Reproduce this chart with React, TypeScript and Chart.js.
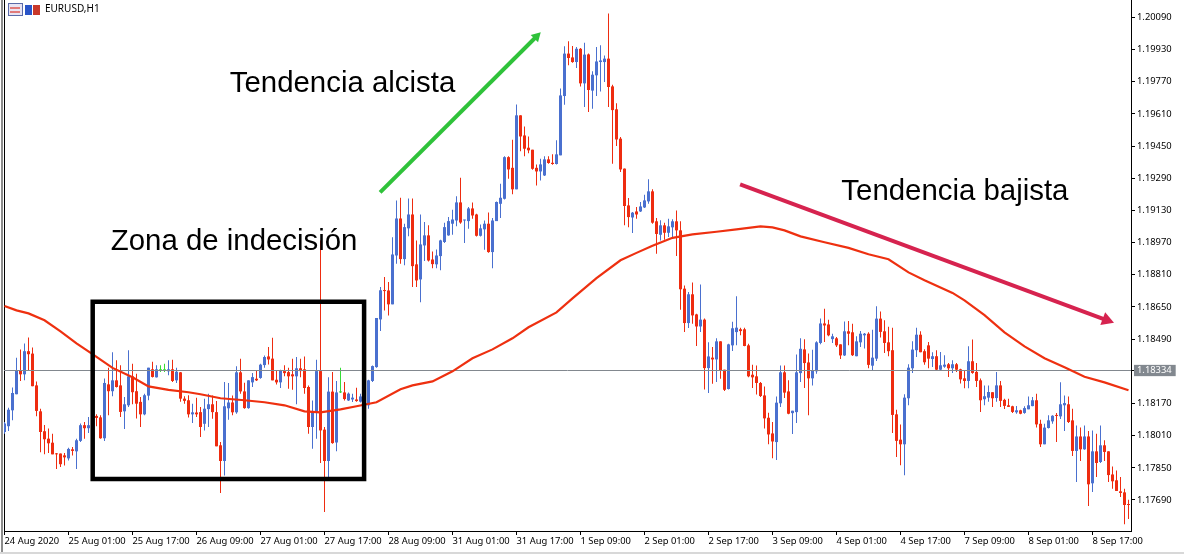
import React, { useEffect, useRef } from "react";
import { Chart, registerables } from "chart.js";

Chart.register(...registerables);

const symbol = "EURUSD,H1";
const currentPrice = 1.18334;
const timeLabels = ["24 Aug 2020", "25 Aug 01:00", "25 Aug 17:00", "26 Aug 09:00", "27 Aug 01:00", "27 Aug 17:00", "28 Aug 09:00", "31 Aug 01:00", "31 Aug 17:00", "1 Sep 09:00", "2 Sep 01:00", "2 Sep 17:00", "3 Sep 09:00", "4 Sep 01:00", "4 Sep 17:00", "7 Sep 09:00", "8 Sep 01:00", "8 Sep 17:00"];
const timeTickIndex = [0, 16, 32, 48, 64, 80, 96, 112, 128, 144, 160, 176, 192, 208, 224, 240, 256, 272];
const priceTicks = [1.2009, 1.1993, 1.1977, 1.1961, 1.1945, 1.1929, 1.1913, 1.1897, 1.1881, 1.1865, 1.1849, 1.18334, 1.1817, 1.1801, 1.1785, 1.1769];

const opens = [
1.18028,1.18057,1.18136,1.18216,1.18335,1.18315,1.18430,1.18418,1.18260,1.18131,
1.18032,1.17995,1.17975,1.17921,1.17921,1.17912,1.17897,1.17942,1.17932,1.17984,
1.18062,1.18047,1.18057,1.18108,1.18101,1.17997,1.18265,1.18231,1.18285,1.18260,
1.18131,1.18161,1.18305,1.18231,1.18178,1.18116,1.18209,1.18340,1.18300,1.18335,
1.18335,1.18330,1.18340,1.18285,1.18325,1.18194,1.18186,1.18116,1.18125,1.18127,
1.18069,1.18142,1.18166,1.18127,1.17962,1.17884,1.18146,1.18175,1.18126,1.18325,
1.18230,1.18147,1.18275,1.18293,1.18297,1.18361,1.18404,1.18393,1.18288,1.18275,
1.18331,1.18326,1.18315,1.18305,1.18345,1.18340,1.18252,1.18053,1.18127,1.18331,
1.18040,1.17884,1.18229,1.17976,1.18225,1.18225,1.18185,1.18190,1.18190,1.18179,
1.18209,1.18161,1.18282,1.18351,1.18588,1.18732,1.18732,1.18663,1.18906,1.19090,
1.18888,1.19041,1.19110,1.18862,1.18787,1.18956,1.19006,1.18886,1.18862,1.18903,
1.18973,1.19006,1.19064,1.19080,1.19170,1.19080,1.19077,1.19140,1.19110,1.19004,
1.19036,1.19064,1.18923,1.19077,1.19163,1.19188,1.19395,1.19342,1.19235,1.19603,
1.19503,1.19442,1.19432,1.19342,1.19324,1.19304,1.19384,1.19367,1.19361,1.19404,
1.19699,1.19910,1.19891,1.19868,1.19934,1.19762,1.19906,1.19726,1.19802,1.19868,
1.19868,1.19885,1.19747,1.19633,1.19487,1.19338,1.19155,1.19095,1.19125,1.19125,
1.19145,1.19175,1.19225,1.19076,1.19009,1.19056,1.19019,1.19046,1.19076,1.19031,
1.18741,1.18570,1.18713,1.18613,1.18553,1.18587,1.18346,1.18398,1.18389,1.18479,
1.18338,1.18242,1.18459,1.18525,1.18539,1.18539,1.18459,1.18313,1.18305,1.18272,
1.18210,1.18099,1.18021,1.17978,1.18171,1.18325,1.18230,1.18122,1.18127,1.18321,
1.18439,1.18374,1.18295,1.18330,1.18471,1.18568,1.18563,1.18490,1.18494,1.18464,
1.18409,1.18529,1.18524,1.18405,1.18474,1.18509,1.18517,1.18358,1.18393,1.18592,
1.18529,1.18474,1.18435,1.18116,1.17990,1.17967,1.18196,1.18345,1.18435,1.18512,
1.18430,1.18459,1.18391,1.18405,1.18338,1.18353,1.18365,1.18345,1.18365,1.18340,
1.18295,1.18282,1.18380,1.18327,1.18285,1.18191,1.18199,1.18226,1.18197,1.18260,
1.18188,1.18161,1.18156,1.18126,1.18136,1.18123,1.18141,1.18157,1.18186,1.18069,
1.17967,1.18048,1.18081,1.18113,1.18106,1.18161,1.18166,1.18086,1.17934,1.18006,
1.17942,1.18006,1.17773,1.17932,1.17879,1.17962,1.17932,1.17817,1.17788,1.17733,
1.17728,1.17668];

const highs = [
1.18078,1.18149,1.18249,1.18398,1.18438,1.18468,1.18498,1.18448,1.18279,1.18144,
1.18063,1.18045,1.18020,1.17924,1.17921,1.17924,1.17950,1.17954,1.17995,1.18070,
1.18078,1.18103,1.18153,1.18116,1.18111,1.18294,1.18348,1.18425,1.18385,1.18360,
1.18202,1.18435,1.18368,1.18318,1.18202,1.18219,1.18348,1.18377,1.18360,1.18360,
1.18368,1.18385,1.18388,1.18348,1.18327,1.18206,1.18211,1.18169,1.18199,1.18152,
1.18194,1.18219,1.18210,1.18182,1.17978,1.18277,1.18272,1.18210,1.18355,1.18393,
1.18273,1.18285,1.18321,1.18331,1.18368,1.18409,1.18451,1.18497,1.18331,1.18338,
1.18360,1.18348,1.18393,1.18401,1.18393,1.18404,1.18260,1.18185,1.18388,1.18981,
1.18053,1.18301,1.18326,1.18282,1.18348,1.18277,1.18224,1.18219,1.18248,1.18219,
1.18210,1.18288,1.18359,1.18595,1.18749,1.18799,1.18774,1.18997,1.19180,1.19193,
1.19064,1.19190,1.19190,1.18981,1.19110,1.19072,1.19056,1.18926,1.18936,1.18984,
1.19069,1.19097,1.19133,1.19200,1.19293,1.19084,1.19147,1.19170,1.19114,1.19060,
1.19080,1.19120,1.19092,1.19175,1.19263,1.19399,1.19400,1.19482,1.19657,1.19603,
1.19548,1.19498,1.19432,1.19359,1.19387,1.19399,1.19399,1.19409,1.19479,1.19736,
1.19946,1.19971,1.19948,1.19943,1.19938,1.19964,1.19910,1.19822,1.19943,1.19951,
1.19901,1.20109,1.19755,1.19663,1.19495,1.19338,1.19192,1.19122,1.19147,1.19172,
1.19208,1.19285,1.19235,1.19092,1.19081,1.19069,1.19089,1.19086,1.19130,1.19076,
1.18757,1.18724,1.18772,1.18616,1.18762,1.18592,1.18474,1.18451,1.18494,1.18479,
1.18338,1.18467,1.18577,1.18703,1.18547,1.18547,1.18467,1.18363,1.18359,1.18277,
1.18255,1.18124,1.18078,1.18205,1.18359,1.18359,1.18285,1.18134,1.18414,1.18494,
1.18489,1.18418,1.18437,1.18479,1.18592,1.18641,1.18587,1.18517,1.18500,1.18464,
1.18578,1.18580,1.18567,1.18504,1.18531,1.18521,1.18524,1.18537,1.18653,1.18627,
1.18584,1.18551,1.18547,1.18139,1.18066,1.18216,1.18365,1.18479,1.18547,1.18529,
1.18440,1.18476,1.18425,1.18435,1.18426,1.18410,1.18371,1.18385,1.18371,1.18343,
1.18335,1.18454,1.18488,1.18371,1.18294,1.18260,1.18260,1.18226,1.18327,1.18282,
1.18194,1.18194,1.18159,1.18157,1.18139,1.18156,1.18205,1.18202,1.18219,1.18089,
1.18069,1.18111,1.18111,1.18123,1.18275,1.18210,1.18205,1.18144,1.18061,1.18050,
1.18061,1.18033,1.18036,1.18020,1.18061,1.17987,1.17932,1.17857,1.17837,1.17804,
1.17746,1.17691];

const lows = [
1.18020,1.18033,1.18086,1.18216,1.18282,1.18285,1.18332,1.18256,1.18106,1.17927,
1.17917,1.17924,1.17917,1.17844,1.17854,1.17861,1.17887,1.17911,1.17844,1.17979,
1.17995,1.18023,1.18053,1.18057,1.17995,1.17984,1.18111,1.18206,1.18249,1.18103,
1.18043,1.18153,1.18166,1.18095,1.18053,1.18111,1.18186,1.18299,1.18299,1.18327,
1.18327,1.18310,1.18277,1.18272,1.18178,1.18169,1.18100,1.18073,1.18103,1.18003,
1.18036,1.18053,1.18094,1.17957,1.17725,1.17812,1.18089,1.18111,1.18119,1.18219,
1.18144,1.18144,1.18252,1.18282,1.18293,1.18348,1.18364,1.18285,1.18265,1.18247,
1.18305,1.18243,1.18238,1.18166,1.18301,1.18219,1.18020,1.17945,1.17995,1.17874,
1.17630,1.17796,1.17970,1.17933,1.18222,1.18185,1.18182,1.18177,1.18179,1.18175,
1.18114,1.18144,1.18277,1.18348,1.18530,1.18633,1.18608,1.18663,1.18865,1.18865,
1.18857,1.19002,1.18749,1.18749,1.18674,1.18878,1.18876,1.18842,1.18842,1.18832,
1.18968,1.19004,1.19009,1.19051,1.19064,1.18968,1.19039,1.19089,1.19001,1.19001,
1.18935,1.18920,1.18843,1.19077,1.19092,1.19185,1.19288,1.19210,1.19235,1.19425,
1.19399,1.19415,1.19332,1.19254,1.19279,1.19301,1.19362,1.19357,1.19359,1.19404,
1.19656,1.19852,1.19865,1.19838,1.19747,1.19644,1.19619,1.19636,1.19699,1.19722,
1.19769,1.19644,1.19362,1.19450,1.19321,1.19056,1.19047,1.19018,1.19089,1.19122,
1.19142,1.19163,1.19064,1.18915,1.18981,1.18984,1.18998,1.18989,1.18903,1.18636,
1.18525,1.18545,1.18567,1.18456,1.18525,1.18240,1.18222,1.18268,1.18277,1.18293,
1.18232,1.18240,1.18431,1.18459,1.18509,1.18454,1.18301,1.18247,1.18215,1.18202,
1.18046,1.17967,1.17897,1.17889,1.18152,1.18197,1.18116,1.18018,1.18073,1.18277,
1.18247,1.18111,1.18260,1.18318,1.18464,1.18476,1.18504,1.18471,1.18451,1.18391,
1.18406,1.18459,1.18406,1.18405,1.18451,1.18444,1.18345,1.18335,1.18381,1.18498,
1.18421,1.18405,1.18023,1.17904,1.17863,1.17813,1.18161,1.18322,1.18401,1.18425,
1.18362,1.18345,1.18352,1.18335,1.18332,1.18348,1.18302,1.18322,1.18327,1.18269,
1.18246,1.18246,1.18318,1.18252,1.18128,1.18161,1.18179,1.18153,1.18178,1.18153,
1.18143,1.18153,1.18123,1.18119,1.18116,1.18119,1.18141,1.18156,1.18050,1.17953,
1.17967,1.18045,1.18069,1.17978,1.18093,1.18033,1.18073,1.17909,1.17779,1.17884,
1.17940,1.17660,1.17730,1.17804,1.17874,1.17884,1.17779,1.17746,1.17735,1.17705,
1.17569,1.17595];

const closes = [
1.18070,1.18139,1.18222,1.18335,1.18315,1.18430,1.18415,1.18256,1.18133,1.18028,
1.17992,1.17972,1.17917,1.17917,1.17868,1.17902,1.17944,1.17934,1.17987,1.18062,
1.18047,1.18062,1.18106,1.18098,1.17997,1.18272,1.18231,1.18285,1.18252,1.18128,
1.18166,1.18305,1.18226,1.18169,1.18116,1.18211,1.18348,1.18302,1.18340,1.18335,
1.18335,1.18340,1.18282,1.18328,1.18194,1.18183,1.18116,1.18126,1.18116,1.18053,
1.18144,1.18166,1.18127,1.17957,1.17884,1.18156,1.18175,1.18126,1.18325,1.18230,
1.18147,1.18285,1.18301,1.18285,1.18363,1.18401,1.18389,1.18285,1.18275,1.18335,
1.18321,1.18305,1.18305,1.18345,1.18331,1.18247,1.18053,1.18132,1.18331,1.18036,
1.17884,1.18229,1.17973,1.18225,1.18225,1.18192,1.18219,1.18199,1.18182,1.18205,
1.18161,1.18285,1.18356,1.18595,1.18733,1.18729,1.18663,1.18911,1.19090,1.18888,
1.19047,1.19110,1.18853,1.18782,1.18961,1.19006,1.18881,1.18863,1.18906,1.18981,
1.19047,1.19077,1.19085,1.19170,1.19070,1.19084,1.19140,1.19105,1.19004,1.19041,
1.19064,1.18923,1.19080,1.19172,1.19193,1.19395,1.19334,1.19235,1.19603,1.19498,
1.19437,1.19429,1.19337,1.19324,1.19359,1.19384,1.19366,1.19361,1.19409,1.19702,
1.19910,1.19888,1.19868,1.19934,1.19762,1.19905,1.19729,1.19805,1.19871,1.19876,
1.19885,1.19744,1.19629,1.19483,1.19334,1.19152,1.19097,1.19119,1.19110,1.19150,
1.19180,1.19225,1.19069,1.19013,1.19056,1.19019,1.19051,1.19076,1.19031,1.18738,
1.18570,1.18713,1.18608,1.18553,1.18587,1.18346,1.18404,1.18389,1.18479,1.18335,
1.18238,1.18464,1.18544,1.18547,1.18530,1.18456,1.18305,1.18300,1.18272,1.18207,
1.18096,1.18016,1.17981,1.18174,1.18325,1.18224,1.18119,1.18134,1.18325,1.18442,
1.18371,1.18295,1.18335,1.18474,1.18568,1.18558,1.18509,1.18504,1.18459,1.18409,
1.18529,1.18517,1.18410,1.18479,1.18517,1.18517,1.18362,1.18398,1.18592,1.18526,
1.18471,1.18430,1.18113,1.17984,1.17967,1.18199,1.18348,1.18438,1.18512,1.18425,
1.18375,1.18393,1.18405,1.18338,1.18360,1.18363,1.18345,1.18365,1.18338,1.18290,
1.18282,1.18380,1.18322,1.18282,1.18186,1.18206,1.18227,1.18196,1.18260,1.18183,
1.18158,1.18153,1.18128,1.18136,1.18119,1.18147,1.18161,1.18186,1.18066,1.17967,
1.18050,1.18086,1.18109,1.18108,1.18166,1.18172,1.18078,1.17934,1.18006,1.17942,
1.18006,1.17768,1.17932,1.17874,1.17962,1.17929,1.17814,1.17783,1.17735,1.17725,
1.17665,1.17665];

const maIndex = [0,3,6,10,14,18,22,27,32,36,41,46,49,54,60,65,70,75,79,84,88,93,99,102,107,112,117,122,127,131,138,142,148,154,158,162,167,172,178,183,189,192,195,199,205,211,216,221,226,230,237,240,245,250,255,260,265,270,275,281];
const maValues = [1.18655,1.18633,1.18618,1.18584,1.18529,1.18469,1.18415,1.18347,1.18300,1.18255,1.18238,1.18226,1.18216,1.18196,1.18186,1.18176,1.18161,1.18131,1.18126,1.18141,1.18156,1.18176,1.18241,1.18260,1.18280,1.18330,1.18395,1.18439,1.18494,1.18549,1.18623,1.18693,1.18793,1.18882,1.18919,1.18954,1.18994,1.19011,1.19024,1.19036,1.19051,1.19046,1.19031,1.19001,1.18972,1.18944,1.18912,1.18887,1.18822,1.18783,1.18720,1.18683,1.18609,1.18524,1.18454,1.18395,1.18350,1.18303,1.18275,1.18236];

const boxIndex = [22.05, 89.9, 89.9, 22.05, 22.05];
const boxPrice = [1.18676, 1.18676, 1.17795, 1.17795, 1.18676];
const upArrowIndex = [93.9, 133.0];
const upArrowPrice = [1.1922, 1.19995];
const downArrowIndex = [183.9, 275.5];
const downArrowPrice = [1.1926, 1.18585];
const noteLabels = ["Tendencia alcista", "Zona de indecisión", "Tendencia bajista"];
const noteIndex = [84.5, 57.4, 237.6];
const notePrice = [1.19717, 1.18932, 1.1918];

const UP = "#4a70cf";
const DOWN = "#ee2c10";
const DOJI = "#35dc35";
const X_MIN = -0.125;
const X_MAX = 281.625;
const Y_MIN = 1.175358;
const Y_MAX = 1.201766;

const candleColor = opens.map((o, i) => (closes[i] > o ? UP : closes[i] < o ? DOWN : DOJI));
const wickData = opens.map((_, i) => ({ x: i, y: [lows[i], highs[i]] }));
const bodyData = opens.map((o, i) => ({ x: i, y: [Math.min(o, closes[i]), Math.max(o, closes[i])] }));
const pairs = (xs: number[], ys: number[]) => xs.map((x, i) => ({ x, y: ys[i] }));

const chrome = {
  id: "chrome",
  beforeDraw(chart: any) {
    const { ctx, chartArea, width, height } = chart;
    ctx.save();
    ctx.fillStyle = "#ffffff";
    ctx.fillRect(0, 0, width, height);
    ctx.fillStyle = "#8c8c8c";
    ctx.fillRect(1, 0, 2, chartArea.bottom + 21);
    ctx.fillStyle = "#d8d8d8";
    ctx.fillRect(0, height - 2, width, 2);
    ctx.fillStyle = "#000000";
    ctx.fillRect(chartArea.left, 0, 1, chartArea.bottom);
    ctx.restore();
  },
  afterDraw(chart: any) {
    const { ctx, scales } = chart;
    ctx.save();
    ctx.fillStyle = "#000000";
    ctx.textAlign = "center";
    ctx.textBaseline = "alphabetic";
    ctx.font = "29.4px 'Liberation Sans'";
    noteLabels.forEach((t, i) => {
      ctx.fillText(t, scales.x.getPixelForValue(noteIndex[i]), scales.y.getPixelForValue(notePrice[i]));
    });
    ctx.textAlign = "left";
    ctx.textBaseline = "middle";
    ctx.font = "10px 'Noto Sans'";
    ctx.fillText(symbol, 45, 9);
    // window icons
    ctx.fillStyle = "#e8e4f4";
    ctx.fillRect(8, 3, 14, 12);
    ctx.strokeStyle = "#5a6aa8";
    ctx.strokeRect(8.5, 3.5, 14, 12);
    ctx.fillStyle = "#e07a7a";
    ctx.fillRect(10, 7, 10, 2);
    ctx.fillRect(10, 11, 10, 2);
    ctx.fillStyle = "#2a55c8";
    ctx.fillRect(25, 5, 7, 10);
    ctx.fillStyle = "#c8382a";
    ctx.fillRect(33, 5, 7, 10);
    ctx.restore();
  },
};

const noPadding = (scale: any) => {
  scale.paddingTop = 0;
  scale.paddingBottom = 0;
  scale.paddingLeft = 0;
  scale.paddingRight = 0;
};

export default function App() {
  const ref = useRef<HTMLCanvasElement | null>(null);
  useEffect(() => {
    const chart = new Chart(ref.current as HTMLCanvasElement, {
      type: "bar",
      data: {
        datasets: [
          { type: "bar", label: "High-Low", data: wickData as any, backgroundColor: candleColor, barThickness: 1, grouped: false, inflateAmount: 0, order: 5 } as any,
          { type: "bar", label: "Open-Close", data: bodyData as any, backgroundColor: candleColor, barThickness: 3, grouped: false, inflateAmount: 0, minBarLength: 1, order: 4 } as any,
          { type: "line", label: "Last price", data: pairs([X_MIN, X_MAX], [currentPrice, currentPrice]), borderColor: "#82888f", borderWidth: 1, pointRadius: 0, order: 3 } as any,
          { type: "line", label: "Moving average", data: pairs(maIndex, maValues), borderColor: "#ee3010", borderWidth: 2.2, pointRadius: 0, tension: 0, order: 2 } as any,
          { type: "line", label: "Zona", data: pairs(boxIndex, boxPrice), borderColor: "#000000", borderWidth: 4.5, pointRadius: 0, borderCapStyle: "square", borderJoinStyle: "miter", order: 1 } as any,
          { type: "line", label: "Alcista", data: pairs(upArrowIndex, upArrowPrice), borderColor: "#2fc23a", borderWidth: 4, pointStyle: "triangle", pointRadius: [0, 6], pointRotation: 45, pointBackgroundColor: "#2fc23a", pointBorderWidth: 0, order: 1 } as any,
          { type: "line", label: "Bajista", data: pairs(downArrowIndex, downArrowPrice), borderColor: "#d6234f", borderWidth: 4, pointStyle: "triangle", pointRadius: [0, 8], pointRotation: 110.5, pointBackgroundColor: "#d6234f", pointBorderWidth: 0, order: 1 } as any,
        ],
      },
      options: {
        responsive: false,
        animation: false,
        events: [],
        layout: { autoPadding: false, padding: { left: 4, right: 0, top: 0, bottom: 0 } },
        plugins: { legend: { display: false }, tooltip: { enabled: false } },
        scales: {
          x: {
            type: "linear",
            offset: false,
            min: X_MIN,
            max: X_MAX,
            grid: { offset: false, drawOnChartArea: false, drawTicks: true, tickLength: 4, color: "#000000" },
            border: { color: "#000000", width: 1 },
            afterBuildTicks: (scale: any) => {
              scale.ticks = timeTickIndex.map((value) => ({ value }));
            },
            afterFit: (scale: any) => {
              scale.height = 23;
              noPadding(scale);
            },
            ticks: {
              autoSkip: false,
              maxRotation: 0,
              align: "start",
              padding: 1,
              color: "#000000",
              font: { family: "'Noto Sans'", size: 9.4 },
              callback: (_v: any, i: number) => timeLabels[i],
            },
          },
          y: {
            type: "linear",
            position: "right",
            min: Y_MIN,
            max: Y_MAX,
            grid: { drawOnChartArea: false, drawTicks: true, tickLength: 4, color: "#000000" },
            border: { color: "#000000", width: 1 },
            afterBuildTicks: (scale: any) => {
              scale.ticks = priceTicks.map((value) => ({ value }));
            },
            afterFit: (scale: any) => {
              scale.width = 53;
              noPadding(scale);
            },
            ticks: {
              autoSkip: false,
              padding: 2,
              font: { family: "'Noto Sans'", size: 9.4 },
              color: (c: any) => (c.tick.value === currentPrice ? "#ffffff" : "#000000"),
              showLabelBackdrop: (c: any) => c.tick.value === currentPrice,
              backdropColor: "#82888f",
              backdropPadding: { top: 0, bottom: 0, left: 3, right: 4 },
              callback: (v: any) => Number(v).toFixed(5),
            },
          },
        },
      },
      plugins: [chrome],
    } as any);
    return () => chart.destroy();
  }, []);
  return (
    <div style={{ position: "absolute", left: 0, top: 0, width: 1184, height: 554 }}>
      <canvas ref={ref} width={1184} height={554} style={{ display: "block" }} />
    </div>
  );
}
